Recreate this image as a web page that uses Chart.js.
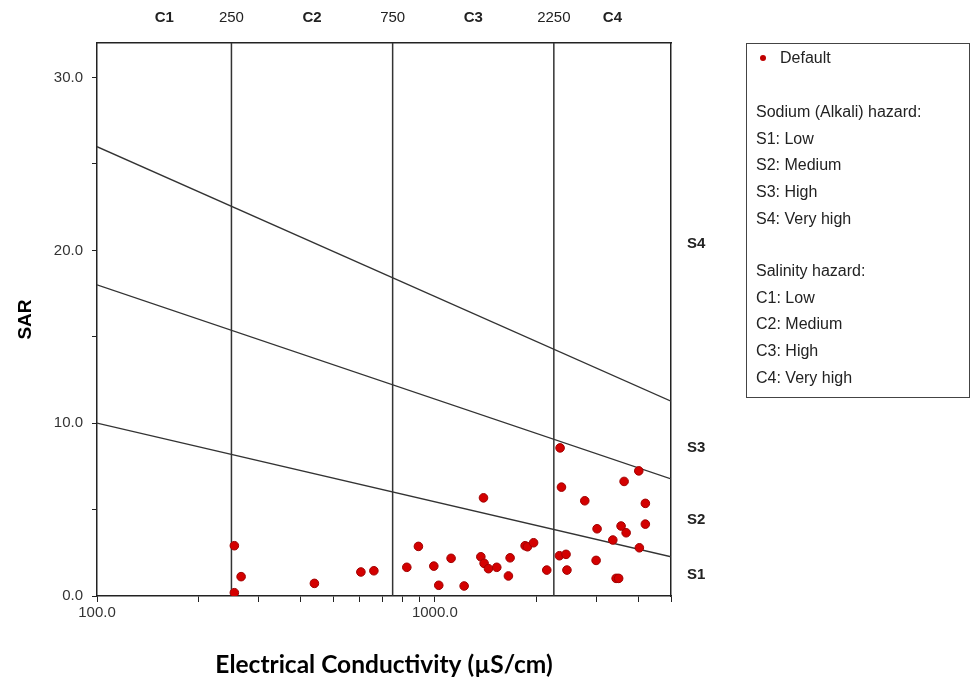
<!DOCTYPE html>
<html>
<head>
<meta charset="utf-8">
<script src="https://cdn.jsdelivr.net/npm/chart.js@4.4.1/dist/chart.umd.min.js"></script>
<style>
html,body{margin:0;padding:0;background:#fff;}
#wrap{position:relative;width:972px;height:684px;overflow:hidden;}
#c{position:absolute;left:0;top:0;}
#legend{position:absolute;left:746px;top:43px;width:224px;height:355px;border:1px solid #444;box-sizing:border-box;
  font-family:"Liberation Sans",Arial,sans-serif;font-size:16px;color:#222;padding:0 0 0 9px;}
#legend .row{height:26.7px;line-height:26.7px;white-space:nowrap;}
#legend .first{margin-top:1px;}
#legend .dot{display:inline-block;width:6px;height:6px;border-radius:50%;background:#c00000;margin:0 14px 2px 4px;vertical-align:middle;}
#legend .gap1{height:27.3px;}
#legend .gap2{height:25.6px;}
</style>
</head>
<body>
<div id="wrap">
<canvas id="c" width="972" height="684"></canvas>
<div id="legend"></div>
</div>
<script>
// ---- data ----
const ecValues  = [255, 267, 255, 440, 604, 660, 1393, 894, 826, 993, 1117, 1027, 1221, 1368, 1399, 1441, 1525, 1670, 1651, 1850, 1880, 1960, 2144, 2348, 2370, 2778, 4014, 3632, 4198, 4198, 3021, 3558, 3683, 3363, 4030, 2337, 2445, 2460, 3001, 3440, 3500];
const sarValues = [2.91, 1.12, 0.19, 0.73, 1.39, 1.46, 5.68, 2.87, 1.66, 1.73, 2.18, 0.62, 0.58, 2.27, 1.89, 1.58, 1.66, 2.21, 1.16, 2.91, 2.85, 3.08, 1.50, 8.57, 6.30, 5.51, 7.24, 6.63, 5.36, 4.16, 3.89, 4.05, 3.66, 3.24, 2.79, 2.33, 2.41, 1.50, 2.06, 1.02, 1.02];

const ecClassBounds = [100, 250, 750, 2250, 5000];
const ecClassNames = ['C1', 'C2', 'C3', 'C4'];
const sodiumLineLeftSAR  = [10, 18, 26];        // SAR at EC = 100
const sodiumLineRightSAR = [2.27, 6.78, 11.27]; // SAR at EC = 5000
const sClassNames = ['S1', 'S2', 'S3', 'S4'];
const sClassLabelSAR = [1.2, 4.4, 8.6, 20.4];

const sarTicks = [0, 5, 10, 15, 20, 25, 30];
const ecTicks = [100, 200, 300, 400, 500, 600, 700, 800, 900, 1000, 2000, 3000, 4000, 5000];
const ecTickLabels = {100: '100.0', 1000: '1000.0'};

const seriesName = 'Default';
const sodiumTitle = 'Sodium (Alkali) hazard:';
const sodiumItems = ['S1: Low', 'S2: Medium', 'S3: High', 'S4: Very high'];
const salinityTitle = 'Salinity hazard:';
const salinityItems = ['C1: Low', 'C2: Medium', 'C3: High', 'C4: Very high'];

// ---- legend (HTML) ----
(function(){
  const lg = document.getElementById('legend');
  let h = '<div class="row first"><span class="dot"></span>' + seriesName + '</div><div class="gap1"></div>';
  h += '<div class="row">' + sodiumTitle + '</div>';
  sodiumItems.forEach(t => h += '<div class="row">' + t + '</div>');
  h += '<div class="gap2"></div><div class="row">' + salinityTitle + '</div>';
  salinityItems.forEach(t => h += '<div class="row">' + t + '</div>');
  lg.innerHTML = h;
})();

// ---- derived tick sets for the top axis ----
const topTickValues = [];
const topTickLabels = [];
for (let i = 0; i < ecClassNames.length; i++) {
  topTickValues.push(Math.sqrt(ecClassBounds[i] * ecClassBounds[i + 1]));
  topTickLabels.push(ecClassNames[i]);
  if (i < ecClassNames.length - 1) {
    topTickValues.push(ecClassBounds[i + 1]);
    topTickLabels.push(String(ecClassBounds[i + 1]));
  }
}

const ecMin = ecClassBounds[0], ecMax = ecClassBounds[ecClassBounds.length - 1];
const sarMax = 32;

const FONT = '"Liberation Sans", Arial, sans-serif';
const LINE = '#333';
const AXIS = '#222';

const datasets = [{
  label: seriesName,
  data: ecValues.map((x, i) => ({x: x, y: sarValues[i]})),
  pointRadius: 4.3,
  pointBackgroundColor: '#d40000',
  pointBorderColor: '#a00000',
  pointBorderWidth: 1,
  showLine: false,
  order: 0
}];
sodiumLineLeftSAR.forEach((v, i) => datasets.push({
  label: 'sodium' + i,
  data: [{x: ecMin, y: v}, {x: ecMax, y: sodiumLineRightSAR[i]}],
  showLine: true, borderColor: LINE, borderWidth: 1.3, pointRadius: 0, order: 1
}));
ecClassBounds.slice(1, -1).forEach((b, i) => datasets.push({
  label: 'salinity' + i,
  data: [{x: b, y: 0}, {x: b, y: sarMax}],
  showLine: true, borderColor: LINE, borderWidth: 1.5, pointRadius: 0, order: 1
}));

new Chart(document.getElementById('c'), {
  type: 'scatter',
  data: {datasets: datasets},
  options: {
    responsive: false,
    animation: false,
    devicePixelRatio: 1,
    layout: {padding: {left: 0, right: 242, top: 0, bottom: 0}},
    plugins: {legend: {display: false}, tooltip: {enabled: false}},
    scales: {
      x: {
        type: 'logarithmic', position: 'bottom', min: ecMin, max: ecMax,
        afterBuildTicks: s => { s.ticks = ecTicks.map(v => ({value: v})); },
        afterFit: s => { s.height = 88; },
        ticks: {
          callback: v => ecTickLabels[v] || '',
          font: {family: FONT, size: 15}, color: '#333', padding: 2,
          autoSkip: false, maxRotation: 0, minRotation: 0
        },
        grid: {display: true, drawOnChartArea: false, drawTicks: true, tickLength: 6, color: AXIS, lineWidth: 1},
        border: {display: true, color: AXIS, width: 1.5},
        title: {display: true, text: 'Electrical Conductivity (µS/cm)', color: '#000',
          font: {family: 'Lato, "Open Sans", sans-serif', size: 24.5, weight: 'bold'},
          padding: {top: 4, bottom: 4}}
      },
      x2: {
        type: 'logarithmic', position: 'top', min: ecMin, max: ecMax,
        afterBuildTicks: s => { s.ticks = topTickValues.map(v => ({value: v})); },
        afterFit: s => { s.height = 43; },
        ticks: {
          callback: (v, i) => topTickLabels[i],
          font: ctx => ({family: FONT, size: 15, weight: /^C/.test(topTickLabels[ctx.index] || '') ? 'bold' : 'normal'}),
          color: '#222', padding: 16, autoSkip: false, maxRotation: 0, minRotation: 0
        },
        grid: {display: false, drawTicks: false},
        border: {display: true, color: AXIS, width: 1.5}
      },
      y: {
        type: 'linear', position: 'left', min: 0, max: sarMax,
        afterBuildTicks: s => { s.ticks = sarTicks.map(v => ({value: v})); },
        afterFit: s => { s.width = 97; },
        ticks: {
          callback: v => (v % 10 === 0 ? v.toFixed(1) : ''),
          font: {family: FONT, size: 15}, color: '#333', padding: 9
        },
        grid: {display: true, drawOnChartArea: false, drawTicks: true, tickLength: 5, color: AXIS, lineWidth: 1},
        border: {display: true, color: AXIS, width: 1.5},
        title: {display: true, text: 'SAR', color: '#000',
          font: {family: FONT, size: 19, weight: 'bold'}, padding: {top: 14, bottom: 0}}
      },
      y2: {
        type: 'linear', position: 'right', min: 0, max: sarMax,
        afterBuildTicks: s => { s.ticks = sClassLabelSAR.map(v => ({value: v})); },
        afterFit: s => { s.width = 59; },
        ticks: {
          callback: (v, i) => sClassNames[i],
          font: {family: FONT, size: 15, weight: 'bold'}, color: '#222', padding: 16
        },
        grid: {display: false, drawTicks: false},
        border: {display: true, color: AXIS, width: 1.5}
      }
    }
  }
});
</script>
</body>
</html>
